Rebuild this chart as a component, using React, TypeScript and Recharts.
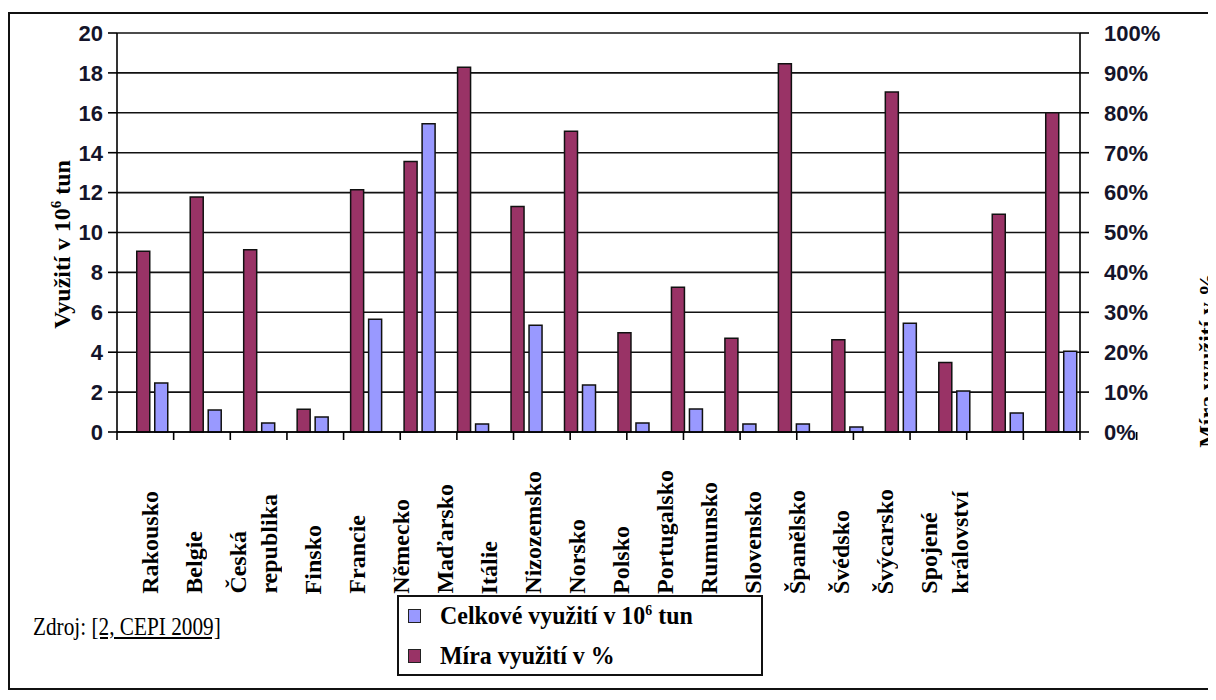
import React from "react";
import { BarChart, Bar, XAxis, YAxis, CartesianGrid, Legend } from "recharts";

// Využití sběrového papíru podle zemí (CEPI 2009)
const countries = [
  "Rakousko",
  "Belgie",
  "Česká republika",
  "Finsko",
  "Francie",
  "Německo",
  "Maďarsko",
  "Itálie",
  "Nizozemsko",
  "Norsko",
  "Polsko",
  "Portugalsko",
  "Rumunsko",
  "Slovensko",
  "Španělsko",
  "Švédsko",
  "Švýcarsko",
  "Spojené království",
];

// celkové využití v 10^6 tun
const totalUse = [2.45, 1.1, 0.45, 0.75, 5.65, 15.45, 0.4, 5.35, 2.35, 0.45, 1.15, 0.4, 0.4, 0.25, 5.45, 2.05, 0.95, 4.05];

// míra využití v %
const useRate = [45.3, 58.9, 45.7, 5.7, 60.7, 67.8, 91.4, 56.5, 75.4, 24.9, 36.3, 23.5, 92.3, 23.1, 85.2, 17.4, 54.6, 80];

const leftTicks = [0, 2, 4, 6, 8, 10, 12, 14, 16, 18, 20];
const rightTicks = [0, 10, 20, 30, 40, 50, 60, 70, 80, 90, 100];

const MAROON = "#993366";
const LAVENDER = "#9999ff";
const SERIF = "'Liberation Serif', 'Times New Roman', serif";
const SANS = "'Liberation Sans', Arial, sans-serif";

const chartData = countries.map((name, i) => ({
  name,
  rate: useRate[i],
  total: totalUse[i],
}));

// hranice kategorií pro značky na ose x
const boundaryTicks = Array.from({ length: countries.length + 1 }, (_, i) => i);

const tickStyle = { fontFamily: SANS, fontWeight: 700, fontSize: 22, fill: "#14142a" };

function LeftTitle(props: any) {
  const vb = props.viewBox;
  const x = vb.x + 63;
  const y = vb.y + vb.height / 2 + 12;
  return (
    <text
      x={x}
      y={y}
      transform={`rotate(-90, ${x}, ${y})`}
      textAnchor="middle"
      fontFamily={SERIF}
      fontWeight={700}
      fontSize={24}
      fill="#000"
    >
      Využití v 10
      <tspan dy={-9} fontSize={15}>6</tspan>
      <tspan dy={9}> tun</tspan>
    </text>
  );
}

function RightTitle(props: any) {
  const vb = props.viewBox;
  const x = vb.x + 135;
  const y = vb.y + vb.height * 0.82;
  return (
    <text
      x={x}
      y={y}
      transform={`rotate(-90, ${x}, ${y})`}
      textAnchor="middle"
      fontFamily={SERIF}
      fontWeight={700}
      fontSize={24}
      fill="#000"
    >
      Míra využití v %
    </text>
  );
}

function LegendBox() {
  const row = (color: string, top: number, text: React.ReactNode) => (
    <div style={{ position: "absolute", left: 9, top, height: 30, display: "flex", alignItems: "center" }}>
      <div style={{ width: 11, height: 12, background: color, border: "1.5px solid #222", marginRight: 19 }} />
      <div
        style={{
          fontFamily: SERIF,
          fontWeight: 700,
          fontSize: 26,
          whiteSpace: "nowrap",
          transform: "scaleX(0.92)",
          transformOrigin: "left center",
          color: "#000",
        }}
      >
        {text}
      </div>
    </div>
  );
  return (
    <div
      style={{
        position: "relative",
        width: 366,
        height: 81,
        border: "2px solid #111",
        boxSizing: "border-box",
        background: "#fff",
      }}
    >
      {row(
        LAVENDER,
        4,
        <span>
          Celkové využití v 10<sup style={{ fontSize: 15, verticalAlign: "9px", lineHeight: 0 }}>6</sup> tun
        </span>
      )}
      {row(MAROON, 44, "Míra využití v %")}
    </div>
  );
}

// značka na ose x bez popisku
const noLabel = () => <g />;

export default function App() {
  return (
    <div
      style={{
        position: "relative",
        width: 1216,
        height: 700,
        margin: -8,
        overflow: "hidden",
        background: "#fff",
      }}
    >
      {/* rámeček kolem obrázku */}
      <div
        style={{
          position: "absolute",
          left: 8,
          top: 12,
          width: 1260,
          height: 678,
          border: "2px solid #111",
          boxSizing: "border-box",
        }}
      />

      <div style={{ position: "absolute", left: 0, top: 0 }}>
        <BarChart
          width={1216}
          height={700}
          data={chartData}
          margin={{ top: 33, right: 0, bottom: 238, left: 7 }}
          barGap={5}
        >
          <CartesianGrid xAxisId="bars" yAxisId="left" vertical={false} stroke="#111" strokeWidth={1.6} />
          <XAxis
            xAxisId="frame"
            type="number"
            domain={[0, countries.length]}
            ticks={boundaryTicks}
            interval={0}
            allowDataOverflow
            tick={noLabel}
            tickSize={8}
            height={30}
            axisLine={{ stroke: "#000", strokeWidth: 1.6 }}
            tickLine={{ stroke: "#000", strokeWidth: 1.6 }}
          />
          <XAxis xAxisId="bars" dataKey="name" hide height={0} padding={{ left: 8.75, right: -8.2 }} />
          <YAxis
            yAxisId="left"
            orientation="left"
            width={110}
            domain={[0, 20]}
            ticks={leftTicks}
            interval={0}
            tickSize={9}
            tickMargin={5}
            tick={tickStyle}
            axisLine={{ stroke: "#000", strokeWidth: 1.6 }}
            tickLine={{ stroke: "#000", strokeWidth: 1.6 }}
            label={(p: any) => <LeftTitle {...p} />}
          />
          <YAxis
            yAxisId="right"
            orientation="right"
            width={136}
            domain={[0, 100]}
            ticks={rightTicks}
            interval={0}
            tickFormatter={(v: number) => `${v}%`}
            tickSize={9}
            tickMargin={15}
            tick={tickStyle}
            axisLine={{ stroke: "#000", strokeWidth: 1.6 }}
            tickLine={{ stroke: "#000", strokeWidth: 1.6 }}
            label={(p: any) => <RightTitle {...p} />}
          />
          <Bar
            xAxisId="bars"
            yAxisId="right"
            dataKey="rate"
            name="Míra využití v %"
            barSize={13}
            fill={MAROON}
            stroke="#111"
            strokeWidth={1.5}
            isAnimationActive={false}
          />
          <Bar
            xAxisId="bars"
            yAxisId="left"
            dataKey="total"
            name="Celkové využití v 10^6 tun"
            barSize={13}
            fill={LAVENDER}
            stroke="#111"
            strokeWidth={1.5}
            isAnimationActive={false}
          />
          <Legend
            layout="vertical"
            align="center"
            verticalAlign="middle"
            wrapperStyle={{ left: 397, top: 595, width: 366 }}
            content={() => <LegendBox />}
          />
        </BarChart>
      </div>

      {/* popisky zemí, svisle */}
      <div
        style={{
          position: "absolute",
          left: 134.5,
          top: 0,
          height: 594,
          display: "flex",
          alignItems: "flex-end",
          gap: 13,
        }}
      >
        {countries.map((name) => (
          <div
            key={name}
            style={{
              writingMode: "vertical-rl",
              transform: "rotate(180deg)",
              lineHeight: "31px",
              fontFamily: SERIF,
              fontWeight: 700,
              fontSize: 24,
              whiteSpace: "nowrap",
              color: "#000",
            }}
          >
            {name.split(" ").map((w, j) => (
              <React.Fragment key={j}>
                {j > 0 && <br />}
                {w}
              </React.Fragment>
            ))}
          </div>
        ))}
      </div>

      {/* zdroj */}
      <div
        style={{
          position: "absolute",
          left: 33,
          top: 613,
          fontFamily: SERIF,
          fontSize: 25,
          lineHeight: "27px",
          whiteSpace: "nowrap",
          transform: "scaleX(0.85)",
          transformOrigin: "left center",
          color: "#000",
        }}
      >
        Zdroj: <span style={{ textDecoration: "underline" }}>[2, CEPI 2009]</span>
      </div>
    </div>
  );
}
